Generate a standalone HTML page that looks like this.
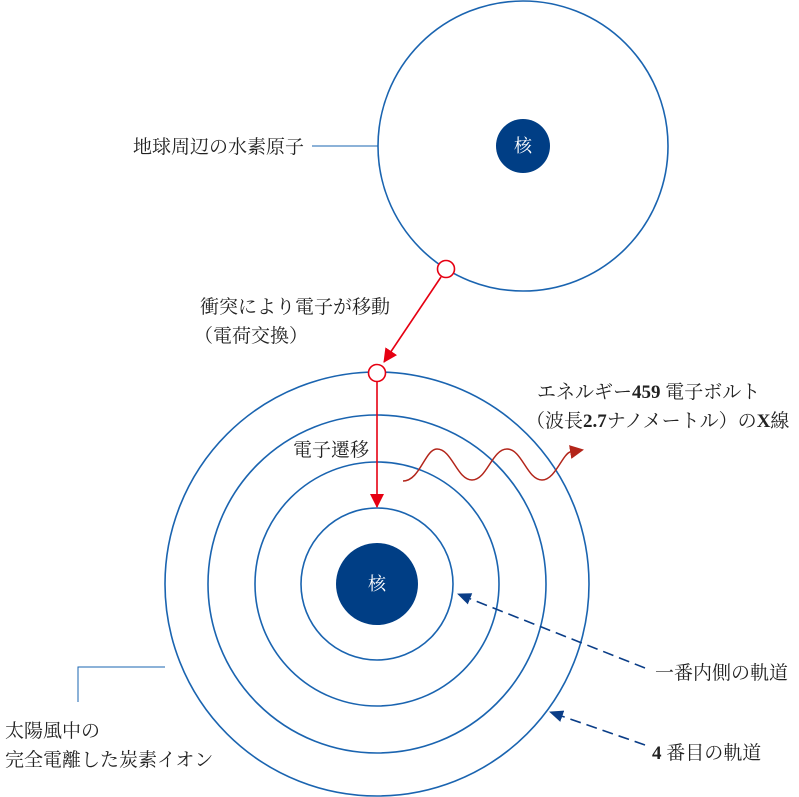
<!DOCTYPE html>
<html><head><meta charset="utf-8"><style>
html,body{margin:0;padding:0;background:#fff;}
svg{display:block}
text{font-family:"Liberation Serif","Noto Serif CJK SC",serif;font-size:19px;fill:#222;}
</style></head><body>
<svg width="799" height="797" viewBox="0 0 799 797">
<defs>
<marker id="ar2" markerWidth="14" markerHeight="14" refX="13" refY="7" orient="auto" markerUnits="userSpaceOnUse"><path d="M0,0 L14,7 L0,14 Z" fill="#e60012"/></marker>
<marker id="ab" markerWidth="14" markerHeight="12" refX="13" refY="6" orient="auto" markerUnits="userSpaceOnUse"><path d="M0,0 L14,6 L0,12 Z" fill="#0a3d87"/></marker>
<marker id="aw" markerWidth="14" markerHeight="14" refX="12" refY="7" orient="auto" markerUnits="userSpaceOnUse"><path d="M0,0 L14,7 L0,14 Z" fill="#b3251a"/></marker>
</defs>
<g fill="none" stroke="#1a64b0" stroke-width="1.6">
<circle cx="523" cy="146" r="145"/>
<circle cx="377" cy="584" r="212"/>
<circle cx="377" cy="584" r="169"/>
<circle cx="377" cy="584" r="122"/>
<circle cx="377" cy="584" r="76"/>
</g>
<g stroke="#1a64b0" stroke-width="1" fill="none">
<line x1="312" y1="146" x2="378" y2="146"/>
<polyline points="165,667 78,667 78,702"/>
</g>
<circle cx="523" cy="146" r="27" fill="#003e85"/>
<circle cx="377" cy="584" r="41" fill="#003e85"/>
<text x="523" y="152" text-anchor="middle" style="fill:#fff;font-size:18px">核</text>
<text x="377" y="590" text-anchor="middle" style="fill:#fff;font-size:18px">核</text>
<line x1="441" y1="277" x2="384" y2="362" stroke="#e60012" stroke-width="1.6" marker-end="url(#ar2)"/>
<line x1="377" y1="382" x2="377" y2="507" stroke="#e60012" stroke-width="1.6" marker-end="url(#ar2)"/>
<circle cx="446" cy="269" r="8.5" fill="#fff" stroke="#e60012" stroke-width="1.6"/>
<circle cx="377" cy="373" r="8.5" fill="#fff" stroke="#e60012" stroke-width="1.6"/>
<path d="M403,481 C420,481 425,449 437,449 C452,449 457,480 472,480 C487,480 492,449 507,449 C522,449 527,480 542,480 C555,480 562,455 570,452 L582,450" fill="none" stroke="#b3251a" stroke-width="1.5" marker-end="url(#aw)"/>
<g stroke="#0a3d87" stroke-width="1.6" stroke-dasharray="11,6" fill="none">
<line x1="645" y1="668" x2="458" y2="594" marker-end="url(#ab)"/>
<line x1="645" y1="745" x2="550" y2="712" marker-end="url(#ab)"/>
</g>
<text x="133" y="153">地球周辺の水素原子</text>
<text x="200" y="313">衝突により電子が移動</text>
<text x="194" y="342">（電荷交換）</text>
<text x="537" y="398">エネルギー<tspan font-weight="bold">459</tspan> 電子ボルト</text>
<text x="526" y="427">（波長<tspan font-weight="bold">2.7</tspan>ナノメートル）の<tspan font-weight="bold">X</tspan>線</text>
<text x="293" y="456">電子遷移</text>
<text x="655" y="679">一番内側の軌道</text>
<text x="652" y="759"><tspan font-weight="bold">4</tspan> 番目の軌道</text>
<text x="5" y="737">太陽風中の</text>
<text x="5" y="766">完全電離した炭素イオン</text>
</svg>
</body></html>
